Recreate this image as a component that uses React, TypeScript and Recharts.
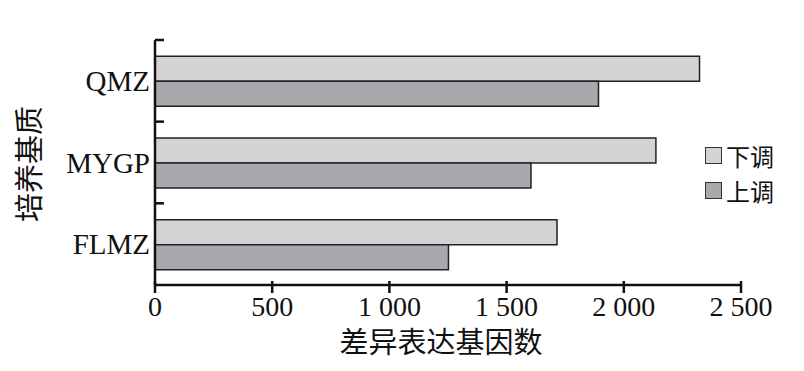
import React from 'react';
import { BarChart, Bar, XAxis, YAxis, Legend } from 'recharts';

const categories = ['QMZ', 'MYGP', 'FLMZ'];
const downValues = [2323, 2137, 1715];
const upValues = [1892, 1604, 1252];
const xTicks = [0, 500, 1000, 1500, 2000, 2500];
const xTickLabels = ['0', '500', '1 000', '1 500', '2 000', '2 500'];
const seriesNames = ['下调', '上调'];
const colors = ['#d3d3d5', '#a9a9ad'];

const data = categories.map((c, i) => ({ name: c, down: downValues[i], up: upValues[i] }));

const SERIF = '"Liberation Serif", "Times New Roman", serif';
const CJK = '"Noto Sans CJK SC", sans-serif';

const YTick = (props: any) => {
  const { x, y, payload } = props;
  const half = 81.7 / 2;
  const axisX = 155;
  return (
    <g>
      <text x={x + 3} y={y} dy={10} textAnchor="end" fontFamily={SERIF} fontSize={29} fill="#111">
        {payload.value}
      </text>
      <line x1={axisX} x2={axisX + 9} y1={y - half} y2={y - half} stroke="#111" strokeWidth={2.5} />
    </g>
  );
};

const XTick = (props: any) => {
  const { x, y, index } = props;
  return (
    <g>
      <line x1={x} x2={x} y1={y - 12} y2={y} stroke="#111" strokeWidth={2.5} />
      <text x={x} y={y + 23} textAnchor="middle" fontFamily={SERIF} fontSize={28} fill="#111">
        {xTickLabels[index]}
      </text>
    </g>
  );
};

const LegendContent = () => (
  <div style={{ display: 'flex', flexDirection: 'column', gap: 0 }}>
    {seriesNames.map((n, i) => (
      <div key={n} style={{ display: 'flex', alignItems: 'center', height: 35 }}>
        <div style={{ width: 15, height: 15, background: colors[i], border: '1.5px solid #333', marginRight: 4 }} />
        <span style={{ fontFamily: CJK, fontSize: 24, color: '#111', lineHeight: '35px' }}>{n}</span>
      </div>
    ))}
  </div>
);

export default function App() {
  return (
    <div style={{ position: 'absolute', left: 0, top: 0, width: 804, height: 371, background: '#fff' }}>
      <BarChart
        width={804}
        height={371}
        data={data}
        layout="vertical"
        margin={{ top: 40, right: 63, left: 0, bottom: 0 }}
        barCategoryGap="20%"
        barGap={0}
      >
        <XAxis
          type="number"
          domain={[0, 2500]}
          ticks={xTicks}
          height={86}
          axisLine={{ stroke: '#111', strokeWidth: 2.5 }}
          tickLine={false}
          tick={<XTick />}
          interval={0}
        />
        <YAxis
          type="category"
          dataKey="name"
          width={155}
          axisLine={{ stroke: '#111', strokeWidth: 2.5 }}
          tickLine={false}
          tick={<YTick />}
          interval={0}
        />
        <Legend
          layout="horizontal"
          verticalAlign="middle"
          align="center"
          wrapperStyle={{ left: 705, top: 138, width: 100 }}
          content={<LegendContent />}
        />
        <Bar dataKey="down" name={seriesNames[0]} fill={colors[0]} stroke="#222" strokeWidth={1.5} isAnimationActive={false} />
        <Bar dataKey="up" name={seriesNames[1]} fill={colors[1]} stroke="#222" strokeWidth={1.5} isAnimationActive={false} />
        <text x={441} y={353} textAnchor="middle" fontFamily={CJK} fontSize={29} fill="#111">差异表达基因数</text>
        <text
          x={40}
          y={164}
          textAnchor="middle"
          fontFamily={CJK}
          fontSize={29}
          fill="#111"
          transform="rotate(-90 40 164)"
        >
          培养基质
        </text>
      </BarChart>
    </div>
  );
}
